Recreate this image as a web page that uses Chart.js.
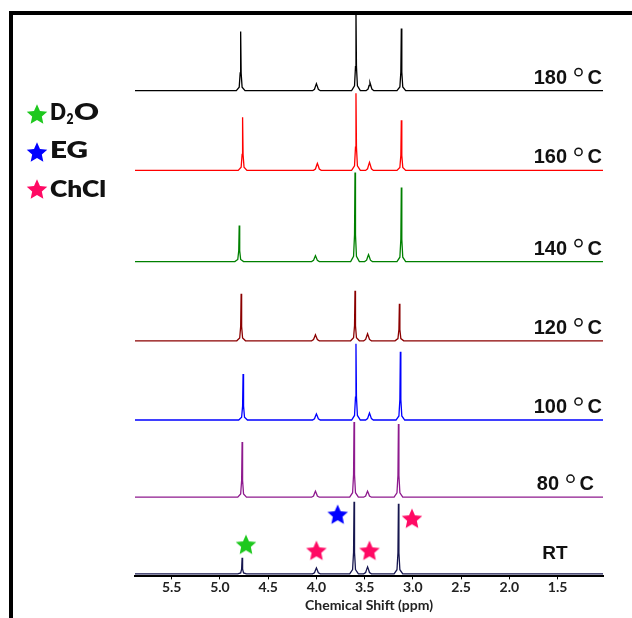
<!DOCTYPE html>
<html>
<head>
<meta charset="utf-8">
<script src="https://cdn.jsdelivr.net/npm/chart.js@4"></script>
<style>html,body{margin:0;padding:0;background:#fff;}</style>
</head>
<body>
<canvas id="myChart" width="632" height="618"></canvas>
<script>
// x range (ppm) and tick labels
const ppmMin = 1.03, ppmMax = 5.88;
const tickValues = [5.5, 5.0, 4.5, 4.0, 3.5, 3.0, 2.5, 2.0, 1.5];

// spectra, bottom to top
const temps = ['RT', '80', '100', '120', '140', '160', '180'];
const colours = ['#16164f', '#8e1a8e', '#0000ff', '#8b0000', '#008000', '#ff0000', '#000000'];
const offsets = [2.5, 79, 156, 235, 314, 405, 484.5];

// peak shifts (ppm) and heights for each spectrum
const shiftsRT  = [4.77, 4.00, 3.61, 3.47, 3.15];
const heightsRT = [16, 6, 72, 7, 70];
const shifts80  = [4.77, 4.01, 3.61, 3.47, 3.15];
const heights80 = [55, 6, 75, 6, 73];
const shifts100  = [4.76, 4.00, 3.59, 3.45, 3.13];
const heights100 = [46, 6, 76, 7, 68];
const shifts120  = [4.78, 4.01, 3.60, 3.47, 3.14];
const heights120 = [47, 6, 50, 7, 37];
const shifts140  = [4.80, 4.01, 3.60, 3.46, 3.12];
const heights140 = [36, 6, 89, 7, 74];
const shifts160  = [4.765, 3.99, 3.59, 3.45, 3.12];
const heights160 = [53, 7, 77, 8, 50];
const shifts180  = [4.785, 4.00, 3.59, 3.445, 3.12];
const heights180 = [59, 7, 80, 8, 62];

const allShifts = [shiftsRT, shifts80, shifts100, shifts120, shifts140, shifts160, shifts180];
const allHeights = [heightsRT, heights80, heights100, heights120, heights140, heights160, heights180];

// star markers on the RT spectrum
const starD2O  = [{x: 4.73, y: 32}];
const starEG   = [{x: 3.78, y: 62}];
const starChCl = [{x: 4.00, y: 26}, {x: 3.45, y: 26}, {x: 3.01, y: 58}];

const green = '#1ec81e', blue = '#0000ff', pink = '#ff0a64';

function starPath(c, cx, cy, R) {
  const r = R * 0.47;
  c.beginPath();
  for (let k = 0; k < 10; k++) {
    const a = -Math.PI / 2 + k * Math.PI / 5;
    const rad = k % 2 ? r : R;
    c.lineTo(cx + rad * Math.cos(a), cy + rad * Math.sin(a));
  }
  c.closePath();
}

function makeStar(color, R) {
  const cv = document.createElement('canvas');
  cv.width = cv.height = Math.ceil(2 * R + 4);
  const c = cv.getContext('2d');
  starPath(c, cv.width / 2, cv.height / 2 + 1, R);
  c.fillStyle = color;
  c.fill();
  return cv;
}

function spectrumPoints(i) {
  const pts = [{x: ppmMax, y: offsets[i]}];
  const s = allShifts[i], h = allHeights[i], b = offsets[i];
  const order = s.map((v, k) => k).sort((a, z) => s[z] - s[a]);
  order.forEach(k => {
    const p = s[k], v = h[k];
    // small multiplets are broader bumps, big singlets are sharp lines
    const shape = v < 12
      ? [[0.04, 0], [0.02, 0.2], [0.009, 0.65]]
      : [[0.045, 0], [0.015, 0.06], [0.005, 0.3]];
    shape.forEach(([d, f]) => pts.push({x: p + d, y: b + v * f}));
    pts.push({x: p, y: b + v});
    shape.slice().reverse().forEach(([d, f]) => pts.push({x: p - d, y: b + v * f}));
  });
  pts.push({x: ppmMin, y: b});
  return pts;
}

const datasets = temps.map((t, i) => ({
  label: t,
  data: spectrumPoints(i),
  borderColor: colours[i],
  borderWidth: 1.3,
  pointRadius: 0,
  tension: 0
}));
datasets.push(
  {label: 'D2O', data: starD2O, showLine: false, pointStyle: makeStar(green, 10.8)},
  {label: 'EG', data: starEG, showLine: false, pointStyle: makeStar(blue, 10.8)},
  {label: 'ChCl', data: starChCl, showLine: false, pointStyle: makeStar(pink, 10.8)}
);

function fitText(c, text, x, y, width) {
  const w = c.measureText(text).width;
  c.save();
  c.translate(x, y);
  c.scale(width / w, 1);
  c.fillText(text, 0, 0);
  c.restore();
}

const decor = {
  id: 'decor',
  afterDraw(chart) {
    const c = chart.ctx, ys = chart.scales.y;
    c.save();
    // frame
    c.fillStyle = '#000';
    c.fillRect(9, 11, 623, 4);
    c.fillRect(9, 11, 4, 607);

    // temperature labels
    c.fillStyle = '#111';
    c.strokeStyle = '#111';
    c.textBaseline = 'alphabetic';
    temps.forEach((t, i) => {
      const base = ys.getPixelForValue(offsets[i]);
      if (t === 'RT') {
        c.font = 'bold 19px "Liberation Sans"';
        c.textAlign = 'center';
        c.fillText('RT', 555, base - 15);
        return;
      }
      const right = t === '80' ? 594 : 602;
      const by = base - 7;
      c.font = 'bold 20px "Liberation Sans"';
      c.textAlign = 'right';
      c.fillText('C', right, by);
      c.lineWidth = 1.5;
      c.beginPath();
      c.arc(right - 23.5, by - 11.5, 3.6, 0, Math.PI * 2);
      c.stroke();
      c.fillText(t, right - 35, by);
    });

    // legend
    c.textAlign = 'left';
    starPath(c, 37, 115, 10.8); c.fillStyle = green; c.fill();
    starPath(c, 37, 153, 10.8); c.fillStyle = blue; c.fill();
    starPath(c, 37, 190, 10.8); c.fillStyle = pink; c.fill();
    c.fillStyle = '#111';
    c.font = '800 22px Lato';
    fitText(c, 'D', 50, 120, 16);
    fitText(c, 'O', 74, 120, 25);
    c.font = '800 14px Lato';
    fitText(c, '2', 66.5, 124, 7);
    c.font = '800 22px Lato';
    fitText(c, 'EG', 50, 158, 38);
    fitText(c, 'ChCl', 50, 197, 56);
    c.restore();
  }
};

new Chart(document.getElementById('myChart'), {
  type: 'line',
  data: {datasets: datasets},
  options: {
    responsive: false,
    animation: false,
    devicePixelRatio: 1,
    layout: {padding: {left: 135, right: 29, top: 13, bottom: 4}},
    plugins: {legend: {display: false}, tooltip: {enabled: false}},
    scales: {
      x: {
        type: 'linear',
        reverse: true,
        min: ppmMin,
        max: ppmMax,
        afterBuildTicks: scale => { scale.ticks = tickValues.map(v => ({value: v})); },
        grid: {drawOnChartArea: false, drawTicks: true, tickLength: 3, color: '#000'},
        border: {display: true, color: '#000', width: 2},
        ticks: {
          padding: 0,
          maxRotation: 0,
          color: '#222',
          font: {family: 'Lato', weight: 'bold', size: 14},
          callback: v => Number(v).toFixed(1)
        },
        title: {
          display: true,
          text: 'Chemical Shift (ppm)',
          color: '#222',
          font: {family: 'Lato', weight: 'bold', size: 14},
          padding: {top: 1, bottom: 0}
        }
      },
      y: {type: 'linear', display: false, min: 0, max: 562}
    }
  },
  plugins: [decor]
});
</script>
</body>
</html>
